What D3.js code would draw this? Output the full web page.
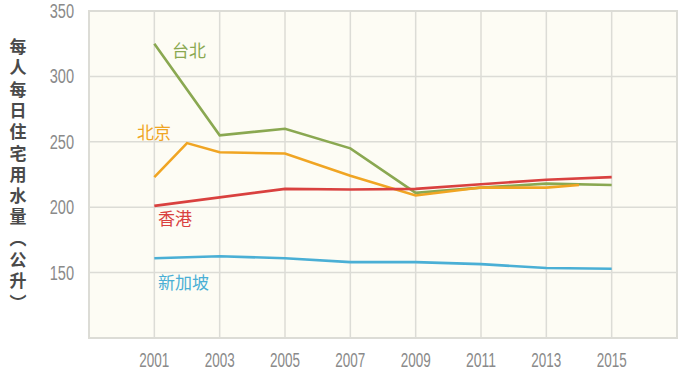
<!DOCTYPE html>
<html lang="zh">
<head>
<meta charset="UTF-8">
<script src="https://cdn.jsdelivr.net/npm/d3@7"></script>
<style>
  body { margin: 0; background: #fff; }
  text { font-family: 'Liberation Sans', 'DejaVu Sans', sans-serif; }
  .cjk { font-family: 'Noto Sans CJK TC', sans-serif; }
</style>
</head>
<body>
<script>
  // values (litres per person per day)
  const taipeiYears = [2001, 2003, 2005, 2007, 2009, 2011, 2013, 2015];
  const taipei = [325, 255, 260, 245, 211, 215, 218, 217];
  const beijingYears = [2001, 2002, 2003, 2005, 2007, 2009, 2011, 2013, 2014];
  const beijing = [223, 249, 242, 241, 224, 209, 215, 215, 217];
  const hkYears = [2001, 2005, 2007, 2009, 2011, 2013, 2015];
  const hongkong = [201, 214, 213.5, 214, 217.5, 221, 223];
  const sgYears = [2001, 2003, 2005, 2007, 2009, 2011, 2013, 2015];
  const singapore = [161, 162.5, 161, 158, 158, 156.5, 153.5, 153];
  const xTicks = [2001, 2003, 2005, 2007, 2009, 2011, 2013, 2015];
  const yTicks = [150, 200, 250, 300, 350];
  // vertical title, one glyph per row (brackets in vertical form)
  const yTitle = ["每", "人", "每", "日", "住", "宅", "用", "水", "量", "︵", "公", "升", "︶"];

  const series = [
    {name: "台北", years: taipeiYears, values: taipei, color: "#8aa851", lx: 172, ly: 57},
    {name: "北京", years: beijingYears, values: beijing, color: "#f0a523", lx: 137, ly: 139},
    {name: "香港", years: hkYears, values: hongkong, color: "#d9413f", lx: 158, ly: 225},
    {name: "新加坡", years: sgYears, values: singapore, color: "#4aafd5", lx: 158, ly: 289}
  ];

  const W = 678, H = 373;
  const mLeft = 89, mRight = 677, mTop = 11, mBottom = 338;

  const x = d3.scaleLinear().domain([1999, 2017]).range([mLeft, mRight]);
  const y = d3.scaleLinear().domain([100, 350]).range([mBottom, mTop]);

  const svg = d3.select("body").append("svg").attr("width", W).attr("height", H);

  svg.append("rect")
    .attr("x", mLeft).attr("y", mTop)
    .attr("width", mRight - mLeft).attr("height", mBottom - mTop)
    .attr("fill", "#fdfcf4").attr("stroke", "#dcdcd6").attr("stroke-width", 2);

  // grid
  svg.append("g").selectAll("line").data(yTicks).join("line")
    .attr("x1", mLeft).attr("x2", mRight)
    .attr("y1", d => y(d)).attr("y2", d => y(d))
    .attr("stroke", "#dcdcd6").attr("stroke-width", 1.5);
  svg.append("g").selectAll("line").data(xTicks).join("line")
    .attr("x1", d => x(d)).attr("x2", d => x(d))
    .attr("y1", mTop).attr("y2", mBottom)
    .attr("stroke", "#dcdcd6").attr("stroke-width", 1.5);

  // axis labels (condensed look via textLength)
  svg.append("g").selectAll("text").data(yTicks).join("text")
    .attr("x", 74).attr("y", d => y(d) + 7)
    .attr("text-anchor", "end").attr("font-size", 20).attr("fill", "#8a8a8a")
    .attr("textLength", d => String(d).length * 8.1).attr("lengthAdjust", "spacingAndGlyphs")
    .text(d => d);
  svg.append("g").selectAll("text").data(xTicks).join("text")
    .attr("x", d => x(d)).attr("y", 367)
    .attr("text-anchor", "middle").attr("font-size", 20).attr("fill", "#8a8a8a")
    .attr("textLength", 30).attr("lengthAdjust", "spacingAndGlyphs")
    .text(d => d);

  // vertical title
  svg.append("g").selectAll("text").data(yTitle).join("text")
    .attr("class", "cjk")
    .attr("x", 18).attr("y", (d, i) => 53 + i * 21.3)
    .attr("text-anchor", "middle").attr("font-size", 17).attr("font-weight", "bold")
    .attr("fill", "#4a4a4a")
    .text(d => d);

  const line = d3.line().x(d => x(d[0])).y(d => y(d[1]));

  series.forEach(s => {
    svg.append("path")
      .datum(s.years.map((yr, i) => [yr, s.values[i]]))
      .attr("d", line)
      .attr("fill", "none").attr("stroke", s.color).attr("stroke-width", 2.6);
    svg.append("text").attr("class", "cjk")
      .attr("x", s.lx).attr("y", s.ly)
      .attr("font-size", 17).attr("fill", s.color)
      .text(s.name);
  });
</script>
</body>
</html>
